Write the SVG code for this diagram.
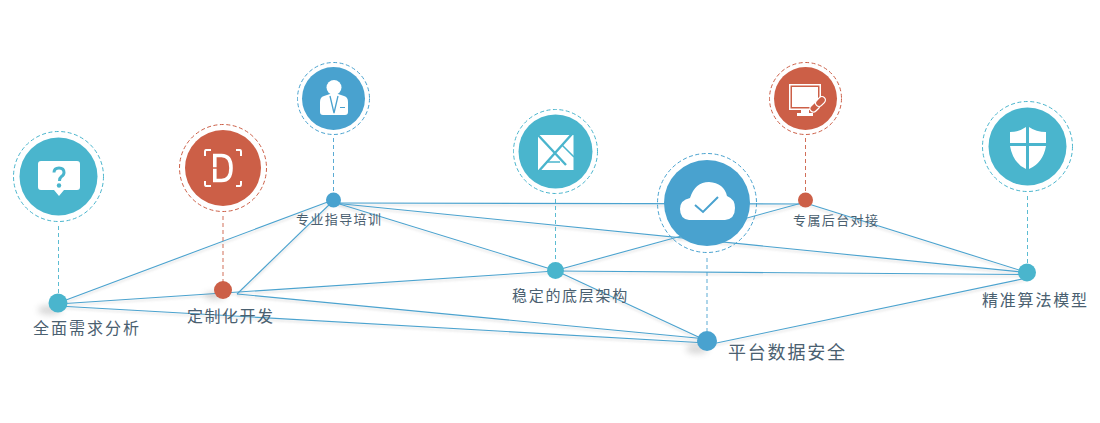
<svg xmlns="http://www.w3.org/2000/svg" width="1100" height="423" viewBox="0 0 1100 423">
<defs>
<filter id="blur" x="-50%" y="-100%" width="200%" height="300%"><feGaussianBlur stdDeviation="3"/></filter>
<filter id="lineShadow" x="-5%" y="-20%" width="110%" height="140%"><feDropShadow dx="0" dy="2" stdDeviation="1.200" flood-color="#888" flood-opacity=".3"/></filter>
</defs>
<style>
text{font-family:"Noto Sans CJK SC","Noto Sans",sans-serif;fill:#4a6070;font-weight:400}
.l{stroke:#4ba3cf;stroke-width:1.100;fill:none}
.teal{fill:#4ab5cd}.blue{fill:#49a2cf}.red{fill:#cc5f47}
.ring,.stem{fill:none;stroke-dasharray:4 2.500;stroke-width:1}
.rteal{stroke:#4ab5cd}.rblue{stroke:#49a2cf}.rred{stroke:#cc5f47}
.stem{stroke-dasharray:4 3;opacity:.9}
.shadow{fill:#777;opacity:.28;filter:url(#blur)}
.w{fill:#fff}
</style>
<g id="connectors" filter="url(#lineShadow)">
<path class="l" d="M58 303L333 200"/>
<path class="l" d="M58 304L555.500 271"/>
<path class="l" d="M58 306L707 343"/>
<path class="l" d="M237 294L333 201"/>
<path class="l" d="M237 294L707 339"/>
<path class="l" d="M333 202L555.500 270.500"/>
<path class="l" d="M333 203L805.500 204"/>
<path class="l" d="M333 203L1027 272.500"/>
<path class="l" d="M555.500 270.500L805.500 202"/>
<path class="l" d="M555.500 271L1027 274.500"/>
<path class="l" d="M555.500 270.500L707 341"/>
<path class="l" d="M805.500 203L1027 272.500"/>
<path class="l" d="M707 345L1027 278"/>
</g>
<g id="node-1">
<ellipse class="shadow" cx="50" cy="310" rx="12" ry="5"/>
<path class="stem rteal" d="M58.500 226V295"/>
<circle class="ring rteal" cx="58.500" cy="176.500" r="45"/>
<circle class="teal" cx="58.500" cy="176.500" r="39"/>
<path class="w" d="M41 161H77Q80 161 80 164V187Q80 190 77 190H64L59 196L54 190H41Q38 190 38 187V164Q38 161 41 161Z"/>
<path d="M54 172.500Q54 168 59 168Q64 168 64 172.500Q64 175 61.500 176.500Q59.500 178 59.500 181" fill="none" stroke="#4ab5cd" stroke-width="3"/>
<circle class="teal" cx="59" cy="185.500" r="2.200"/>
<circle class="teal" cx="58" cy="303" r="9.500"/>
<text x="33" y="334" font-size="16" letter-spacing="2">全面需求分析</text>
</g>
<g id="node-2">
<ellipse class="shadow" cx="215" cy="296" rx="11" ry="4"/>
<path class="stem rred" d="M223 216V282"/>
<circle class="ring rred" cx="223" cy="168" r="43.500"/>
<circle class="red" cx="223" cy="168" r="38"/>
<path d="M211 150H206Q205 150 205 152V156M236 150H240Q241 150 241 152V156M211 186H206Q205 186 205 184V181M236 186H240Q241 186 241 184V181" fill="none" stroke="#fff" stroke-width="2"/>
<path d="M214.800 155.500H221.500Q231 155.500 231 168Q231 180.500 221.500 180.500H214.800Z" fill="none" stroke="#fff" stroke-width="3.600"/>
<path d="M212 168H222" stroke="#cc5f47" stroke-width="1.500"/>
<circle class="red" cx="223" cy="290" r="9"/>
<text x="187" y="322" font-size="16" letter-spacing="1.500">定制化开发</text>
</g>
<g id="node-3">
<path class="stem rblue" d="M333.500 138V193"/>
<circle class="ring rblue" cx="333.500" cy="98.500" r="36"/>
<circle class="blue" cx="333.500" cy="98.500" r="31.500"/>
<circle class="w" cx="334" cy="87.500" r="7.500"/>
<path class="w" d="M324 96L330 94H338L344 96Q348 97 348 102V112Q348 115 345 115H323Q320 115 320 112V102Q320 97 324 96Z"/>
<path d="M330 96L334 113L338 96" fill="none" stroke="#49a2cf" stroke-width="1.300"/>
<path d="M340 107.500H345" stroke="#49a2cf" stroke-width="1"/>
<circle class="blue" cx="333.500" cy="200" r="7.500"/>
<text x="296" y="224" font-size="13" letter-spacing="1.400">专业指导培训</text>
</g>
<g id="node-4">
<path class="stem rteal" d="M555.500 199V262"/>
<circle class="ring rteal" cx="555.500" cy="151.500" r="42"/>
<circle class="teal" cx="555.500" cy="151.500" r="37"/>
<rect class="w" x="538" y="135" width="35.500" height="35"/>
<path d="M538 172L572 134M538 135L566 165" stroke="#4ab5cd" stroke-width="2.400" fill="none"/>
<path d="M546 162H560M562 145L574 157M572 133L575 135" stroke="#4ab5cd" stroke-width="1.500" fill="none"/>
<circle class="teal" cx="555.500" cy="270.500" r="8.500"/>
<text x="512" y="301" font-size="15" letter-spacing="1.700">稳定的底层架构</text>
</g>
<g id="node-5">
<ellipse class="shadow" cx="697" cy="349" rx="11" ry="5"/>
<path class="stem rblue" d="M707 258V331" opacity=".6" stroke-width="1.500"/>
<circle class="ring rblue" cx="707" cy="203" r="49.500"/>
<circle class="blue" cx="707" cy="203" r="43"/>
<path class="w" d="M689 220Q680 219 680 209Q680 200 690 198Q695 182 709 182Q724 183 727 196Q735 199 735 208Q735 219 725 220Z"/>
<path d="M695 205L703 212L718 197" fill="none" stroke="#49a2cf" stroke-width="2"/>
<circle class="blue" cx="707" cy="341" r="10"/>
<text x="728" y="359" font-size="18" letter-spacing="1.800">平台数据安全</text>
</g>
<g id="node-6">
<path class="stem rred" d="M805.500 138V193"/>
<circle class="ring rred" cx="805.500" cy="98.500" r="36"/>
<circle class="red" cx="805.500" cy="98.500" r="31.500"/>
<path class="w" d="M789 84H821V104L815 110H789ZM790.500 85.500V108.500H814L819.500 103V85.500Z" fill-rule="evenodd"/>
<path class="w" d="M792 87H818V102L813 107H792Z"/>
<path class="w" d="M801 110H809V113H813V116H797V113H801Z"/>
<g transform="rotate(-45 818 104)" fill="#cc5f47" stroke="#fff" stroke-width="1.300"><rect x="808" y="100.500" width="11" height="7" rx="3.500"/><rect x="816" y="100.500" width="11" height="7" rx="3.500"/></g>
<circle class="red" cx="805.500" cy="200" r="7.500"/>
<text x="793" y="225" font-size="13" letter-spacing="1.400">专属后台对接</text>
</g>
<g id="node-7">
<path class="stem rteal" d="M1027.500 196V264"/>
<circle class="ring rteal" cx="1027.500" cy="146.500" r="45"/>
<circle class="teal" cx="1027.500" cy="146.500" r="39"/>
<path class="w" d="M1026 127V143H1010V132Q1019 132 1026 127ZM1029 127Q1036 132 1046 132V143H1029ZM1010 146H1026V169Q1013 163 1010 146ZM1029 146H1046Q1043 163 1029 169Z"/>
<circle class="teal" cx="1027" cy="272.500" r="9"/>
<text x="982" y="306" font-size="16" letter-spacing="1.800">精准算法模型</text>
</g>
</svg>
